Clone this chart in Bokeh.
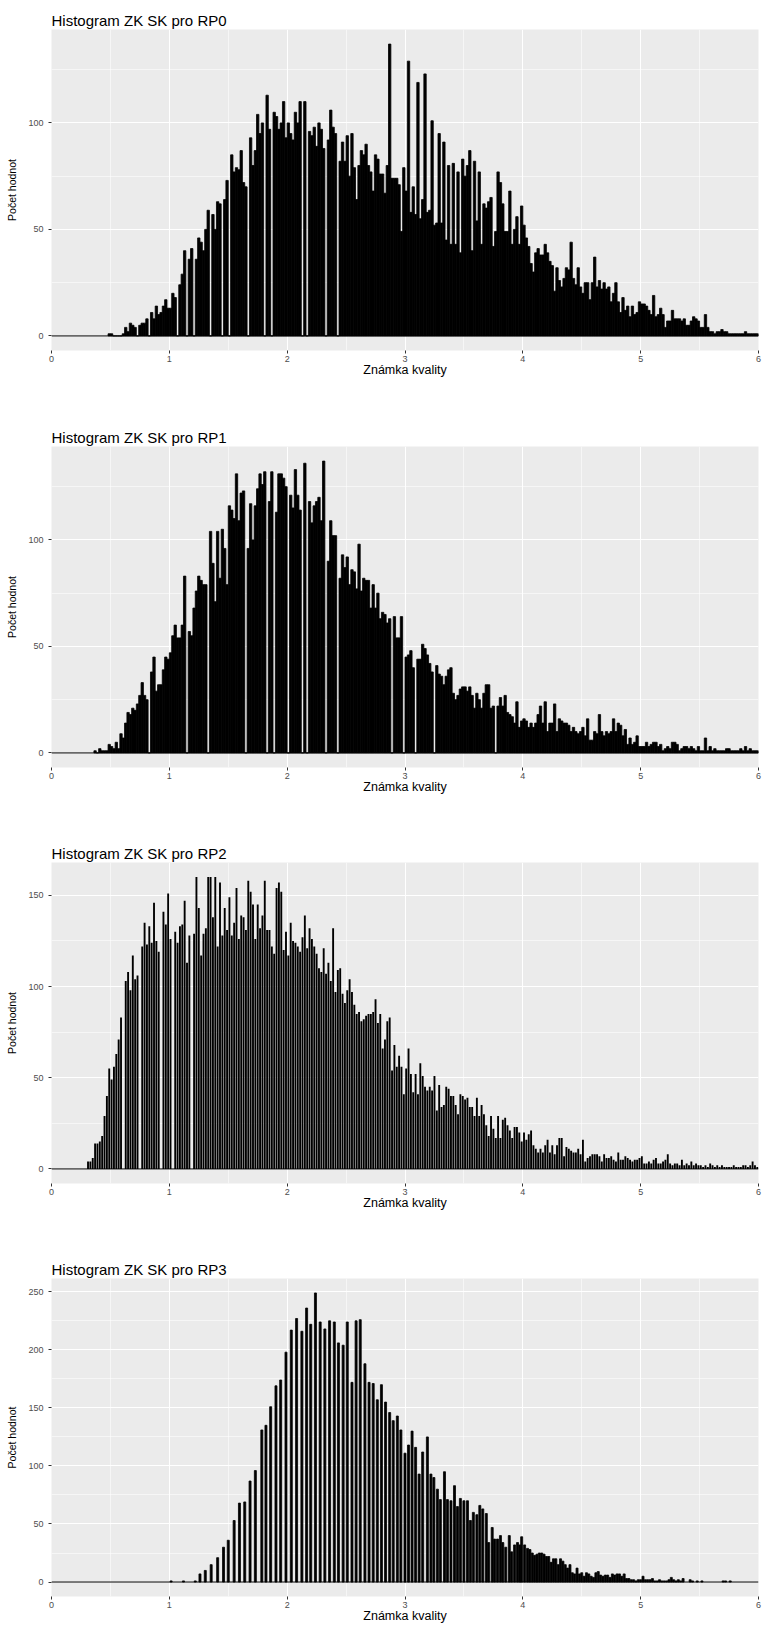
from bokeh.plotting import figure
from bokeh.layouts import column
from bokeh.models import Range1d, FixedTicker, Span
from bokeh.embed import file_html
from bokeh.resources import INLINE

# ---------------- data ----------------
titles = ["Histogram ZK SK pro RP0", "Histogram ZK SK pro RP1",
          "Histogram ZK SK pro RP2", "Histogram ZK SK pro RP3"]
x_label = "Známka kvality"
y_label = "Počet hodnot"
x_major = [0, 1, 2, 3, 4, 5, 6]
x_minor = [0.5, 1.5, 2.5, 3.5, 4.5, 5.5]

bin_width = 0.02

rp0_first_bin = 24
rp0_counts = [
    1, 1, 0, 0, 0, 0, 1, 4, 2, 6, 5, 4, 0, 5, 6, 6, 8,
    0, 11, 8, 14, 10, 11, 14, 17, 13, 13, 20, 18, 0, 24, 29, 40, 0, 36, 41, 0,
    36, 46, 44, 40, 50, 59, 0, 57, 50, 63, 62, 0, 64, 73, 0, 85, 77, 79, 78, 87,
    72, 70, 0, 93, 80, 87, 104, 95, 100, 0, 113, 97, 0, 105, 103, 97, 100, 110, 93, 100,
    95, 92, 105, 100, 110, 0, 110, 0, 96, 94, 98, 89, 100, 97, 88, 0, 92, 106, 98, 95,
    0, 82, 91, 82, 94, 75, 95, 79, 64, 80, 87, 85, 90, 80, 77, 68, 85, 83, 76, 76,
    67, 80, 137, 74, 74, 74, 71, 49, 79, 68, 129, 58, 70, 57, 119, 55, 64, 123, 58, 59,
    101, 52, 53, 95, 53, 91, 45, 80, 43, 81, 43, 77, 39, 83, 75, 80, 87, 40, 82, 54,
    77, 43, 62, 60, 63, 65, 42, 49, 77, 72, 62, 49, 49, 68, 43, 50, 56, 43, 61, 52,
    46, 42, 34, 30, 39, 41, 38, 38, 43, 39, 35, 33, 21, 32, 26, 23, 27, 32, 31, 44,
    27, 24, 32, 23, 20, 25, 25, 17, 25, 37, 23, 26, 22, 25, 22, 23, 16, 20, 25, 16,
    11, 18, 12, 14, 9, 14, 10, 11, 16, 15, 15, 14, 12, 10, 19, 9, 10, 13, 10, 4,
    7, 7, 12, 8, 8, 8, 7, 8, 5, 5, 7, 9, 8, 7, 4, 4, 10, 4, 2, 2,
    1, 2, 2, 3, 2, 2, 1, 1, 1, 1, 1, 1, 1, 2, 1, 1, 1, 1, 1,
]

rp1_first_bin = 18
rp1_counts = [
    1, 0, 2, 1, 1, 1, 4, 3, 2, 5, 2, 9, 7,
    14, 19, 18, 21, 20, 23, 27, 33, 27, 25, 0, 38, 45, 29, 32, 32, 39, 45, 44, 47,
    55, 60, 54, 54, 60, 83, 0, 57, 55, 68, 76, 83, 81, 79, 79, 0, 104, 89, 71, 104,
    82, 105, 96, 79, 116, 114, 110, 131, 109, 122, 123, 0, 96, 117, 100, 116, 124, 131, 126, 132,
    0, 118, 132, 0, 113, 131, 131, 129, 125, 0, 121, 115, 133, 121, 114, 0, 136, 0, 118, 108,
    116, 118, 120, 109, 137, 0, 90, 109, 102, 102, 0, 82, 93, 87, 92, 79, 86, 85, 77, 98,
    76, 82, 81, 81, 68, 79, 68, 75, 63, 66, 65, 61, 63, 0, 64, 54, 54, 64,
    0, 45, 46, 48, 40, 0, 44, 44, 51, 49, 46, 42, 38, 0, 41, 37, 36, 32, 36, 39,
    40, 28, 25, 27, 30, 31, 31, 29, 31, 27, 21, 28, 25, 21, 28, 32, 32, 21, 22, 0,
    22, 26, 22, 27, 19, 18, 17, 14, 24, 12, 15, 16, 15, 12, 14, 12, 14, 18, 22, 14,
    24, 10, 14, 14, 23, 10, 16, 15, 14, 14, 13, 10, 12, 10, 9, 10, 12, 8, 16, 6,
    6, 10, 9, 18, 10, 8, 10, 9, 10, 16, 10, 14, 13, 8, 11, 4, 7, 4, 5, 8,
    3, 3, 3, 5, 3, 4, 5, 5, 3, 4, 1, 2, 3, 2, 5, 5, 4, 1, 2, 3,
    3, 2, 3, 2, 1, 3, 1, 1, 7, 1, 3, 1, 2, 1, 1, 1, 1, 2, 2, 1,
    1, 1, 1, 2, 1, 3, 1, 2, 1, 1, 1,
]

rp2_first_bin = 15
rp2_counts = [
    4, 4, 6, 14, 14, 15, 18, 29, 40, 55, 49, 56, 63, 71, 83, 0,
    103, 108, 98, 117, 104, 106, 0, 122, 135, 123, 133, 124, 146, 125, 119, 0, 141, 134, 151, 126,
    0, 130, 124, 133, 134, 147, 113, 128, 0, 129, 160, 143, 117, 129, 132, 160, 160, 138, 160, 122,
    157, 128, 143, 131, 149, 128, 135, 154, 126, 139, 138, 131, 158, 152, 145, 126, 145, 132, 139, 158,
    131, 131, 122, 118, 154, 157, 152, 120, 130, 117, 135, 125, 124, 122, 119, 127, 139, 121, 132, 126,
    122, 118, 110, 108, 121, 107, 113, 103, 132, 97, 109, 110, 96, 91, 98, 104, 97, 90, 85, 86,
    81, 82, 84, 85, 85, 86, 93, 80, 85, 66, 71, 81, 83, 54, 68, 56, 62, 56,
    41, 55, 66, 52, 42, 52, 41, 58, 51, 45, 43, 45, 43, 51, 32,
    46, 34, 35, 45, 44, 40, 40, 35, 30, 41, 40, 38, 39, 34,
    34, 29, 39, 29, 35, 30, 24, 18, 29, 22, 17, 29, 17, 27,
    28, 24, 21, 17, 23, 23, 20, 15, 20, 16, 19, 21, 13, 11,
    9, 11, 9, 13, 16, 9, 13, 8, 13, 17, 17, 7, 12, 11,
    10, 9, 9, 11, 8, 16, 4, 6, 7, 8, 8, 8, 7, 4, 8, 6, 6, 7, 5,
    4, 9, 5, 5, 7, 6, 5, 4, 5, 5, 6, 7, 3, 3,
    4, 3, 5, 6, 3, 3, 4, 5, 8, 3, 2, 3, 3, 2,
    5, 2, 3, 2, 4, 2, 3, 2, 2, 1, 2, 1, 3, 2,
    1, 2, 1, 2, 1, 1, 1, 1, 2,
    1, 1, 1, 2, 2, 1, 2, 4, 2, 1,
]

rp3_values = [
    1.015, 1.12, 1.22, 1.26, 1.305, 1.355, 1.41, 1.46, 1.50, 1.55, 1.595, 1.64, 1.685, 1.73,
    1.785, 1.82, 1.86, 1.905, 1.945, 1.99, 2.035, 2.08, 2.125, 2.165, 2.20, 2.24, 2.28, 2.32,
    2.36, 2.40, 2.435, 2.475, 2.51, 2.55, 2.585, 2.62, 2.66, 2.695, 2.73, 2.765, 2.80, 2.835,
    2.87, 2.90, 2.935, 2.965, 3.00, 3.03, 3.06, 3.09, 3.12, 3.15, 3.19, 3.22, 3.245, 3.275,
    3.30, 3.335, 3.36, 3.39, 3.42, 3.445, 3.47, 3.50, 3.53, 3.555, 3.58, 3.61, 3.635, 3.66,
    3.69, 3.71, 3.74, 3.76, 3.785, 3.81, 3.83, 3.855, 3.885, 3.905, 3.93, 3.955, 3.975, 3.99,
    4.015, 4.04, 4.06, 4.08, 4.10, 4.12, 4.14, 4.16, 4.18, 4.20, 4.22, 4.24, 4.26, 4.28,
    4.30, 4.32, 4.34, 4.36, 4.38, 4.40, 4.42, 4.44, 4.46, 4.48, 4.50, 4.52, 4.54, 4.56,
    4.58, 4.60, 4.62, 4.64, 4.66, 4.68, 4.70, 4.72, 4.74, 4.76, 4.78, 4.80, 4.82, 4.84,
    4.86, 4.88, 4.90, 4.92, 4.94, 4.96, 4.98, 5.00, 5.02, 5.04, 5.06, 5.08, 5.10, 5.12,
    5.14, 5.16, 5.18, 5.20, 5.22, 5.24, 5.26, 5.28, 5.30, 5.32, 5.34, 5.36, 5.42, 5.44,
    5.48, 5.52, 5.70, 5.72, 5.76,
]
rp3_counts = [
    1, 1, 1, 7, 10, 15, 21, 30, 36, 53, 68, 69, 87, 96,
    131, 135, 151, 169, 174, 198, 217, 227, 216, 236, 222, 249, 224, 218,
    225, 224, 206, 204, 224, 172, 225, 226, 188, 172, 171, 157, 170, 155,
    146, 139, 143, 131, 111, 118, 130, 116, 93, 112, 125, 93, 90, 80,
    71, 95, 71, 70, 83, 65, 72, 70, 70, 53, 60, 58, 66, 63,
    59, 34, 47, 37, 37, 40, 34, 30, 40, 26, 32, 34, 32, 39,
    32, 29, 28, 25, 23, 24, 25, 25, 24, 22, 22, 17, 20, 20,
    15, 20, 18, 15, 12, 15, 8, 7, 12, 7, 8, 5, 8, 7,
    5, 4, 8, 9, 6, 5, 6, 6, 4, 7, 6, 7, 7, 5,
    7, 3, 3, 2, 2, 1, 2, 2, 5, 2, 2, 2, 3, 1,
    1, 2, 1, 1, 1, 2, 4, 2, 1, 2, 1, 3, 2, 1,
    1, 1, 1, 1, 1,
]

y_major = [[0, 50, 100], [0, 50, 100], [0, 50, 100, 150], [0, 50, 100, 150, 200, 250]]
y_minor = [[25, 75, 125], [25, 75, 125], [25, 75, 125], [25, 75, 125, 175, 225]]

# ---------------- styling helpers ----------------
FONT = "Liberation Sans"
heights = [406, 416, 416, 387]
tops = [29, 40, 40, 40]


def binned(first_bin, counts, fill=1.0):
    # bars drawn over `fill` fraction of each bin, centred in the bin
    pad = bin_width * (1 - fill) / 2
    lefts = [(first_bin + i) * bin_width + pad for i in range(len(counts))]
    rights = [l + bin_width * fill for l in lefts]
    return lefts, rights, counts


def centered(values, counts, w=0.017):
    lefts = [v - w / 2 for v in values]
    rights = [v + w / 2 for v in values]
    return lefts, rights, counts


def make_panel(k, lefts, rights, counts, outline=0.8):
    ymax = max(counts)
    h = heights[k]
    p = figure(width=763, height=h, output_backend="svg", toolbar_location=None,
               x_range=Range1d(0, 6), y_range=Range1d(-0.05 * ymax, 1.05 * ymax),
               min_border_left=51, min_border_right=5, min_border_top=tops[k],
               min_border_bottom=h - tops[k] - 321)
    p.background_fill_color = "#EBEBEB"
    p.border_fill_color = "white"
    p.outline_line_color = None

    p.title.text = titles[k]
    p.title.text_font = FONT
    p.title.text_font_size = "15px"
    p.title.text_font_style = "normal"
    p.title.text_color = "black"
    p.title.align = "left"
    p.title.standoff = 2

    xt = FixedTicker(ticks=x_major, minor_ticks=x_minor)
    yt = FixedTicker(ticks=y_major[k], minor_ticks=y_minor[k])
    p.xaxis.ticker = xt
    p.yaxis.ticker = yt
    p.xgrid.ticker = xt
    p.ygrid.ticker = yt

    for g in (p.xgrid, p.ygrid):
        g.grid_line_color = "white"
        g.grid_line_width = 1.1
        g.minor_grid_line_color = "white"
        g.minor_grid_line_width = 0.55

    for ax in (p.xaxis, p.yaxis):
        ax.axis_line_color = None
        ax.minor_tick_line_color = None
        ax.major_tick_in = 0
        ax.major_tick_out = 3
        ax.major_tick_line_color = "#333333"
        ax.major_label_text_font = FONT
        ax.major_label_text_font_size = "9px"
        ax.major_label_text_color = "#4D4D4D"
        ax.axis_label_text_font = FONT
        ax.axis_label_text_font_style = "normal"
        ax.axis_label_text_color = "black"

    p.xaxis.axis_label = x_label
    p.xaxis.axis_label_text_font_size = "12.5px"
    p.xaxis.major_label_standoff = 1
    p.xaxis.axis_label_standoff = -2
    p.yaxis.axis_label = y_label
    p.yaxis.axis_label_text_font_size = "10.5px"
    p.yaxis.major_label_standoff = 4
    p.yaxis.axis_label_standoff = 7

    if outline > 0:
        p.quad(left=lefts, right=rights, top=counts, bottom=0,
               fill_color="black", line_color="black", line_width=outline)
    else:
        p.quad(left=lefts, right=rights, top=counts, bottom=0,
               fill_color="black", line_color=None)
    p.add_layout(Span(location=0, dimension="width", line_color="black", line_width=1))
    return p


panels = [
    make_panel(0, *binned(rp0_first_bin, rp0_counts)),
    make_panel(1, *binned(rp1_first_bin, rp1_counts)),
    make_panel(2, *binned(rp2_first_bin, rp2_counts, fill=0.8), outline=0),
    make_panel(3, *centered(rp3_values, rp3_counts)),
]

layout = column(*panels, spacing=0)
open("out.html", "w").write(file_html(layout, INLINE))
